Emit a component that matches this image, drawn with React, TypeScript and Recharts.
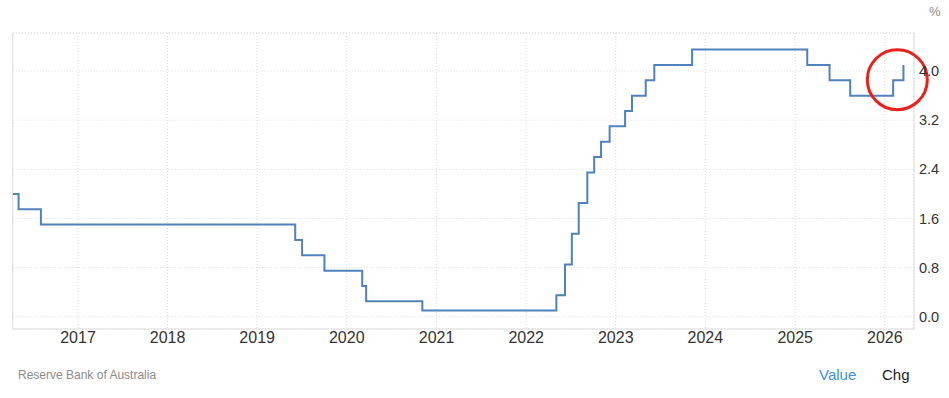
import {
  LineChart,
  Line,
  XAxis,
  YAxis,
  CartesianGrid,
  ReferenceLine,
  ReferenceDot,
} from 'recharts';

// RBA cash rate target decisions shown on the chart
const changeDates = [
  '2016-04-10',
  '2016-05-04',
  '2016-08-03',
  '2019-06-05',
  '2019-07-03',
  '2019-10-02',
  '2020-03-04',
  '2020-03-20',
  '2020-11-04',
  '2022-05-04',
  '2022-06-08',
  '2022-07-06',
  '2022-08-03',
  '2022-09-07',
  '2022-10-05',
  '2022-11-02',
  '2022-12-07',
  '2023-02-08',
  '2023-03-08',
  '2023-05-03',
  '2023-06-07',
  '2023-11-08',
  '2025-02-19',
  '2025-05-21',
  '2025-08-13',
  '2026-02-04',
  '2026-03-18',
];

const cashRates = [
  2.0, 1.75, 1.5, 1.25, 1.0, 0.75, 0.5, 0.25, 0.1, 0.35, 0.85, 1.35, 1.85,
  2.35, 2.6, 2.85, 3.1, 3.35, 3.6, 3.85, 4.1, 4.35, 4.1, 3.85, 3.6, 3.85, 4.1,
];

const yearTicks = [2017, 2018, 2019, 2020, 2021, 2022, 2023, 2024, 2025, 2026];
const valueTicks = [0, 0.8, 1.6, 2.4, 3.2, 4.0];

const xStart = Date.UTC(2016, 3, 10);
const xEnd = Date.UTC(2026, 3, 30);
const yMin = -0.2;
const yMax = 4.62;

// highlighted latest move
const markDate = '2026-02-21';
const markValue = 3.86;

const toTime = (d: string) => {
  const [y, m, day] = d.split('-').map(Number);
  return Date.UTC(y, m - 1, day);
};

const chartData = changeDates.map((d, i) => ({ t: toTime(d), value: cashRates[i] }));

const font = '"Liberation Sans", Arial, sans-serif';
const gridColor = '#dadada';

export default function App() {
  return (
    <div
      style={{
        position: 'absolute',
        left: 0,
        top: 0,
        width: 949,
        height: 398,
        background: '#fff',
        fontFamily: font,
      }}
    >
      <LineChart
        width={949}
        height={398}
        data={chartData}
        margin={{ top: 33, right: 0, bottom: 39, left: 12.7 }}
      >
        <CartesianGrid stroke={gridColor} strokeDasharray="1 2" />
        <ReferenceLine y={yMax} stroke={gridColor} strokeDasharray="1 2" />
        <ReferenceLine x={xStart} stroke="#dcdcdc" strokeWidth={1} />
        <XAxis
          dataKey="t"
          type="number"
          domain={[xStart, xEnd]}
          allowDataOverflow
          ticks={yearTicks.map((y) => Date.UTC(y, 0, 1))}
          tickFormatter={(v) => String(new Date(v).getUTCFullYear())}
          tickLine={false}
          tickSize={0}
          tickMargin={3}
          height={30}
          axisLine={{ stroke: '#dcdcdc' }}
          tick={{ fill: '#333', fontSize: 16, fontFamily: font }}
        />
        <YAxis
          orientation="right"
          type="number"
          domain={[yMin, yMax]}
          allowDataOverflow
          ticks={valueTicks}
          tickFormatter={(v) => Number(v).toFixed(1)}
          tickLine={false}
          tickSize={0}
          tickMargin={5}
          width={35}
          axisLine={{ stroke: '#dcdcdc' }}
          tick={{ fill: '#333', fontSize: 14.5, fontFamily: font, textAnchor: 'start' }}
        />
        <Line
          type="stepAfter"
          dataKey="value"
          stroke="#4f81bd"
          strokeWidth={2}
          dot={false}
          activeDot={false}
          isAnimationActive={false}
        />
        <ReferenceDot
          x={toTime(markDate)}
          y={markValue}
          r={30}
          fill="none"
          stroke="#e8221b"
          strokeWidth={3}
          ifOverflow="visible"
        />
      </LineChart>
      <div style={{ position: 'absolute', left: 929, top: 4, fontSize: 13, color: '#888' }}>%</div>
      <div style={{ position: 'absolute', left: 18, top: 368, fontSize: 12, color: '#8a8a8a' }}>
        Reserve Bank of Australia
      </div>
      <div style={{ position: 'absolute', left: 819, top: 366, fontSize: 15, color: '#3d8fe0' }}>
        Value
      </div>
      <div style={{ position: 'absolute', left: 882, top: 366, fontSize: 15, color: '#222' }}>
        Chg
      </div>
    </div>
  );
}
